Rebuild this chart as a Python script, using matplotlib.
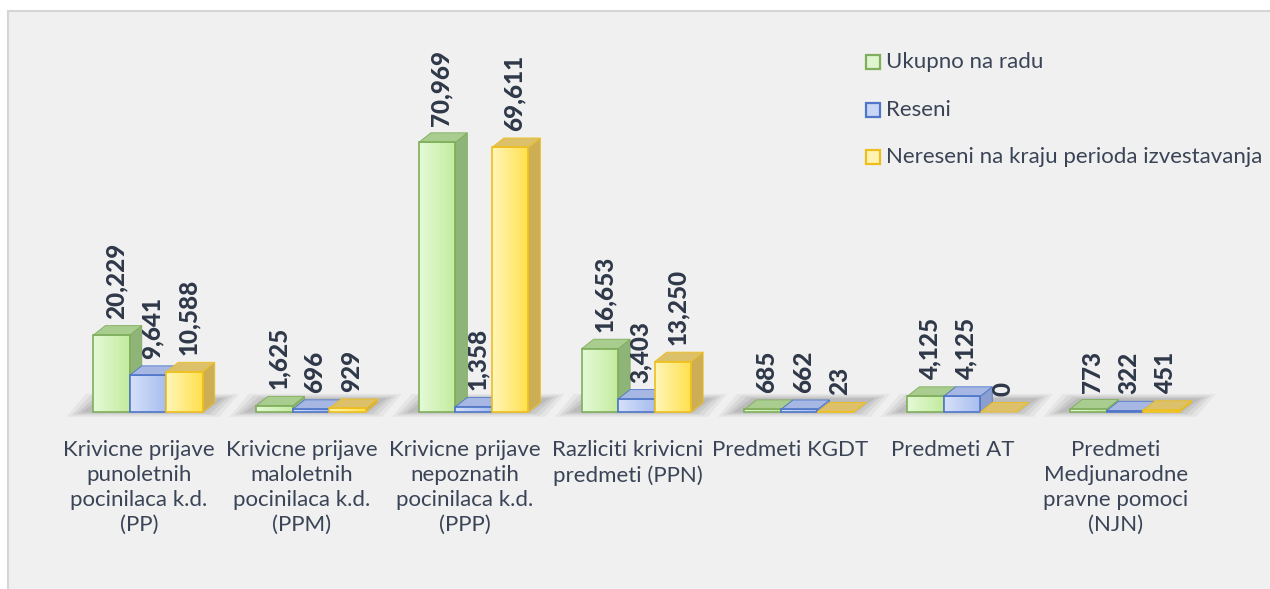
import numpy as np
import matplotlib
matplotlib.use("Agg")
import matplotlib.pyplot as plt
from matplotlib.patches import Rectangle, Polygon
from matplotlib.colors import LinearSegmentedColormap

# ---------------- data ----------------
categories = [
    "Krivicne prijave\npunoletnih\npocinilaca k.d.\n(PP)",
    "Krivicne prijave\nmaloletnih\npocinilaca k.d.\n(PPM)",
    "Krivicne prijave\nnepoznatih\npocinilaca k.d.\n(PPP)",
    "Razliciti krivicni\npredmeti (PPN)",
    "Predmeti KGDT",
    "Predmeti AT",
    "Predmeti\nMedjunarodne\npravne pomoci\n(NJN)",
]
series_names = ["Ukupno na radu", "Reseni", "Nereseni na kraju perioda izvestavanja"]
ukupno = [20229, 1625, 70969, 16653, 685, 4125, 773]
reseni = [9641, 696, 1358, 3403, 662, 4125, 322]
nereseni = [10588, 929, 69611, 13250, 23, 0, 451]
series_values = [ukupno, reseni, nereseni]

# ---------------- styles ----------------
FONT = ["Lato", "DejaVu Sans"]
TXT = "#3a4456"
LBL = "#2e3849"
grad_cols = [("#e4fad6", "#c3eb9e"), ("#d6e1f9", "#a7bdef"), ("#fff6b8", "#ffe04c")]
edge_cols = ["#7fae5c", "#4f76c8", "#eebf1c"]
side_cols = ["#8fb477", "#8a9fcf", "#cdae55"]
top_cols = ["#a9cc8f", "#a5b7e2", "#dcc06a"]
leg_face = ["#dff5cf", "#c9d6f5", "#fff2b3"]

W, H = 1270, 589
fig = plt.figure(figsize=(W / 100, H / 100), dpi=100)
fig.patch.set_facecolor("white")
# chart area
fig.patches.append(Rectangle((8 / W, 0), 1 - 8 / W, 1 - 11 / H, transform=fig.transFigure,
                             facecolor="#f0f0f0", edgecolor="none", zorder=-5))
fig.lines.append(plt.Line2D([8 / W, 8 / W], [0, 1 - 11 / H], transform=fig.transFigure,
                            color="#d6d6d6", lw=1.5, zorder=-4))
fig.lines.append(plt.Line2D([8 / W, 1], [1 - 11 / H, 1 - 11 / H], transform=fig.transFigure,
                            color="#d6d6d6", lw=1.5, zorder=-4))

ax = fig.add_axes([0, 0, 1, 1])
ax.set_axis_off()
ax.patch.set_alpha(0)
ax.set_zorder(1)

# layout in pixels
x0_px, step_px = 148.0, 162.8
base_from_top, px_per_unit = 412.0, 3.8 / 1000.0
xlim = (-x0_px / step_px, (W - x0_px) / step_px)
base_px = H - base_from_top
ylim = (-base_px / px_per_unit, (H - base_px) / px_per_unit)

bw = 36.5 / step_px
dx = 12.0 / step_px
dy = 9.5 / px_per_unit
pad = 7.0 / px_per_unit

# floor shadow
for k in range(len(categories)):
    for (m, a) in [(0.0, 0.08), (0.03, 0.10), (0.06, 0.12), (0.09, 0.14)]:
        l = k - 0.50 + m
        r = k + 0.44 - m
        ylo = -0.5 * dy + m * 5.0 * dy
        yhi = 1.9 * dy - m * 5.0 * dy
        poly = Polygon([(l, ylo), (r, ylo), (r + 1.6 * dx, yhi), (l + 1.6 * dx, yhi)],
                       closed=True, facecolor="#666666", alpha=a, edgecolor="none", zorder=1)
        ax.add_patch(poly)

z = 10
for k in range(len(categories)):
    for s in range(3):
        v = series_values[s][k]
        xl = k + (s - 1.5) * bw
        xr = xl + bw
        # front face with gradient
        if v > 0:
            rect = Rectangle((xl, 0), bw, v, facecolor="none", edgecolor=edge_cols[s],
                             lw=1.2, zorder=z + 0.5)
            ax.add_patch(rect)
            cmap = LinearSegmentedColormap.from_list("g%d" % s, [grad_cols[s][0], grad_cols[s][1]])
            im = ax.imshow(np.linspace(0, 1, 64).reshape(1, -1), cmap=cmap, aspect="auto",
                           extent=[xl, xr, 0, v], zorder=z, interpolation="bilinear")
            clip = Rectangle((xl, 0), bw, v, transform=ax.transData)
            im.set_clip_path(clip)
        # side face
        side = Polygon([(xr, 0), (xr + dx, dy), (xr + dx, v + dy), (xr, v)], closed=True,
                       facecolor=side_cols[s], edgecolor=edge_cols[s], lw=0.6, zorder=z + 0.2)
        ax.add_patch(side)
        # top face
        top = Polygon([(xl, v), (xr, v), (xr + dx, v + dy), (xl + dx, v + dy)], closed=True,
                      facecolor=top_cols[s], edgecolor=edge_cols[s], lw=0.6, zorder=z + 0.3)
        ax.add_patch(top)
        # data label
        ax.text(xl + bw / 2 + dx * 0.35, v + dy + pad, f"{v:,}", rotation=90, ha="center",
                va="bottom", fontsize=17.5, fontweight="black", color=LBL, family=FONT,
                zorder=100)
        z += 1

# category labels
for k, c in enumerate(categories):
    ax.text(k - 0.055, ylim[1] - 440 / px_per_unit, c, ha="center", va="top",
            fontsize=16, color=TXT, family=FONT, linespacing=1.3, zorder=100)

ax.set_xlim(*xlim)
ax.set_ylim(*ylim)

# legend
leg_y = [62, 110, 157]
for s in range(3):
    yc = 1 - leg_y[s] / H
    fig.patches.append(Rectangle((866 / W, yc - 7 / H), 14 / W, 14 / H, transform=fig.transFigure,
                                 facecolor=leg_face[s], edgecolor=edge_cols[s], lw=1.6, zorder=5))
    fig.text(886 / W, yc, series_names[s], ha="left", va="center", fontsize=16,
             color=TXT, family=FONT, zorder=5)

fig.savefig("out.png", dpi=100)
